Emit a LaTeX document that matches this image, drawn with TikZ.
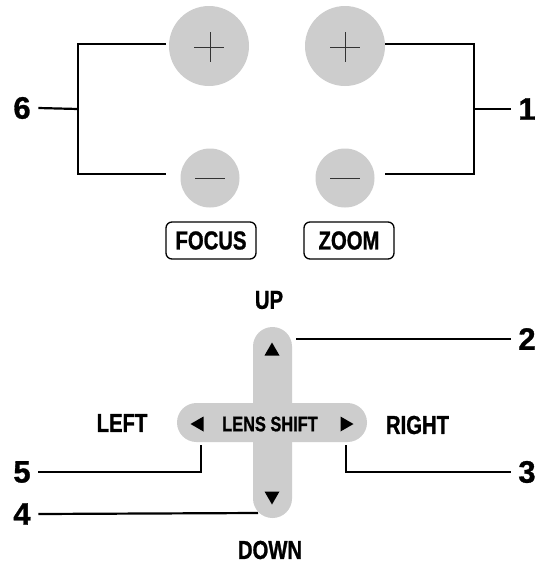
\documentclass[tikz,border=0pt]{standalone}
\usepackage{fontspec}
\setmainfont{Liberation Sans}
\newfontfamily\cond[FakeStretch=0.78, FakeBold=1]{Liberation Sans}
\newfontfamily\numfont[FakeBold=1]{Liberation Sans}
\usetikzlibrary{calc}
\definecolor{btngray}{RGB}{205,205,205}
\begin{document}
\begin{tikzpicture}[x=1pt,y=-1pt,
  btn/.style={circle, fill=btngray, inner sep=0pt},
  conn/.style={line width=2.2pt},
  sign/.style={draw=black!80, line width=0.9pt},
  lbl/.style={font=\cond\bfseries\fontsize{26}{26}\selectfont, inner sep=0pt},
  num/.style={font=\numfont\bfseries\fontsize{31}{31}\selectfont, inner xsep=7.5pt, inner ysep=0pt},
  tagbox/.style={lbl, draw, rounded corners=6pt, line width=1.3pt, minimum width=90pt, minimum height=37pt},
  bar/.style={fill=btngray, inner sep=0pt, rounded corners=19.5pt},
  tri/.style={fill=black}]
\useasboundingbox (0,0) rectangle (538,566);
\fill[white] (0,0) rectangle (538,566);
% buttons
\node[btn, minimum size=80pt] (fp) at (209,46) {};
\node[btn, minimum size=59pt] (fm) at (210,178) {};
\node[btn, minimum size=80pt] (zp) at (345,46) {};
\node[btn, minimum size=59pt] (zm) at (345,178) {};
\draw[sign] ($(fp)+(-15,1)$) -- ($(fp)+(15,1)$);
\draw[sign] ($(fp)+(1,-14)$) -- ($(fp)+(1,16)$);
\draw[sign] ($(zp)+(-15,1)$) -- ($(zp)+(15,1)$);
\draw[sign] ($(zp)+(0,-14)$) -- ($(zp)+(0,16)$);
\draw[sign] ($(fm)+(-15,0)$) -- ($(fm)+(15,0)$);
\draw[sign] ($(zm)+(-15,0)$) -- ($(zm)+(15,0)$);
% tags
\node[tagbox] (focus) at (211,240.5) {FOCUS};
\node[tagbox] (zoom) at (349,240.5) {ZOOM};
% numbers
\node[num] (n6) at (22,108) {6};
\node[num] (n1) at (527,109) {1};
\node[num] (n2) at (527,339) {2};
\node[num] (n3) at (527,472) {3};
\node[num] (n5) at (22,472) {5};
\node[num] (n4) at (22,514) {4};
% top connectors
\coordinate (ft) at (166,44);
\coordinate (fb) at (166,174);
\coordinate (j6) at (78,109);
\draw[conn] (ft) -- (ft -| j6) -- (fb -| j6) -- (fb);
\draw[conn] (n6.east) -- (j6);
\coordinate (zt) at (385,44);
\coordinate (zb) at (385,174);
\coordinate (j1) at (474,109);
\draw[conn] (zt) -- (zt -| j1) -- (zb -| j1) -- (zb);
\draw[conn] (j1) -- (n1.west);
% lens shift cross
\node[bar, minimum width=39pt, minimum height=191pt] (vbar) at (272.5,422.5) {};
\node[bar, minimum width=190pt, minimum height=39pt] (hbar) at (272,422.5) {};
\node[font=\cond\bfseries\fontsize{21}{21}\selectfont, inner sep=0pt] (ls) at (270,424) {LENS SHIFT};
\fill[tri] (272,342.5) -- (279.5,355.5) -- (264.5,355.5) -- cycle;
\fill[tri] (264.5,491.5) -- (279.5,491.5) -- (272,504.5) -- cycle;
\fill[tri] (190.5,424) -- (203.5,416.5) -- (203.5,431.5) -- cycle;
\fill[tri] (353.5,424) -- (340.5,416.5) -- (340.5,431.5) -- cycle;
% direction labels
\node[lbl] (up) at (269,300) {UP};
\node[lbl] (down) at (270,550) {DOWN};
\node[lbl] (left) at (122,423) {LEFT};
\node[lbl] (right) at (417.5,425) {RIGHT};
% lower connectors
\coordinate (c2) at (296,339);
\coordinate (c3) at (346,445);
\coordinate (c5) at (201,445);
\coordinate (c4) at (258,513);
\draw[conn] (c2) -- (n2.west);
\draw[conn] (c3) |- (n3.west);
\draw[conn] (c5) |- (n5.east);
\draw[conn] (c4) -- (n4.east);
\end{tikzpicture}
\end{document}
